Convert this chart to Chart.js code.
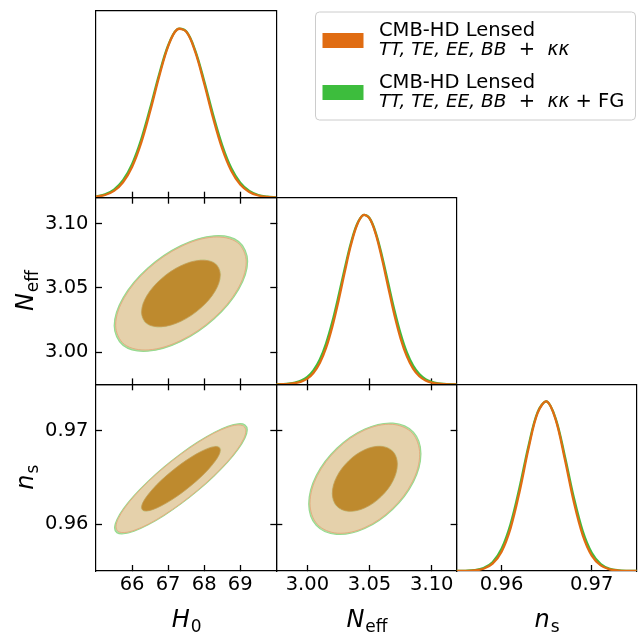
<!DOCTYPE html>
<html>
<head>
<meta charset="utf-8">
<script src="https://cdn.jsdelivr.net/npm/chart.js@4/dist/chart.umd.min.js"></script>
<style>
  html, body { margin: 0; padding: 0; background: #ffffff; }
  #wrap { position: relative; width: 641px; height: 633px; }
  #wrap canvas { position: absolute; left: 0; top: 0; }
</style>
</head>
<body>
<div id="wrap"></div>
<script>
// ---------------- parameter ranges and ticks ----------------
const h0Range = [65, 70];
const neffRange = [2.975, 3.12];
const nsRange = [0.955, 0.975];
const densRange = [0, 1.1];

const h0Ticks = [66, 67, 68, 69];
const neffTicks = [3.00, 3.05, 3.10];
const nsTicks = [0.96, 0.97];

// ---------------- 1D marginals (normalised to peak 1) ----------------
const h0Grid = [65, 65.25, 65.5, 65.75, 66, 66.25, 66.5, 66.75, 67, 67.25, 67.5,
                67.75, 68, 68.25, 68.5, 68.75, 69, 69.25, 69.5, 69.75, 70];
const h0Lensed = [0.0056, 0.016, 0.040, 0.091, 0.181, 0.321, 0.508, 0.713, 0.892, 0.991, 0.979,
                  0.861, 0.673, 0.468, 0.289, 0.159, 0.078, 0.034, 0.013, 0.0045, 0.0014];
const h0LensedFG = [0.0074, 0.020, 0.048, 0.103, 0.198, 0.341, 0.526, 0.726, 0.897, 0.992, 0.980,
                    0.868, 0.687, 0.487, 0.309, 0.175, 0.089, 0.040, 0.016, 0.0060, 0.0019];

const neffGrid = [2.975, 2.98, 2.985, 2.99, 2.995, 3.0, 3.005, 3.01, 3.015, 3.02,
                  3.025, 3.03, 3.035, 3.04, 3.045, 3.05, 3.055, 3.06, 3.065, 3.07,
                  3.075, 3.08, 3.085, 3.09, 3.095, 3.1, 3.105, 3.11, 3.115, 3.12];
const neffLensed = [0.0003, 0.0010, 0.0027, 0.0069, 0.016, 0.034, 0.069, 0.126, 0.215, 0.339,
                    0.492, 0.661, 0.821, 0.941, 0.998, 0.978, 0.885, 0.740, 0.573, 0.409,
                    0.270, 0.165, 0.093, 0.048, 0.023, 0.010, 0.0043, 0.0016, 0.0006, 0.0002];
const neffLensedFG = [0.0006, 0.0017, 0.0042, 0.0099, 0.022, 0.044, 0.084, 0.147, 0.241, 0.367,
                      0.519, 0.682, 0.833, 0.945, 0.998, 0.979, 0.893, 0.757, 0.597, 0.437,
                      0.298, 0.188, 0.111, 0.061, 0.031, 0.015, 0.0064, 0.0026, 0.0010, 0.0004];

const nsGrid = [0.955, 0.956, 0.957, 0.958, 0.959, 0.960, 0.961, 0.962, 0.963, 0.964, 0.965,
                0.966, 0.967, 0.968, 0.969, 0.970, 0.971, 0.972, 0.973, 0.974, 0.975];
const nsLensed = [0.0001, 0.0008, 0.0035, 0.013, 0.043, 0.114, 0.253, 0.469, 0.724, 0.932, 0.999,
                  0.892, 0.663, 0.411, 0.212, 0.091, 0.033, 0.0098, 0.0024, 0.0005, 0.0001];
const nsLensedFG = [0.0002, 0.0012, 0.0050, 0.018, 0.052, 0.131, 0.277, 0.493, 0.740, 0.936, 0.999,
                    0.898, 0.681, 0.436, 0.235, 0.107, 0.041, 0.013, 0.0036, 0.0008, 0.0002];

// ---------------- 2D contours (68% inner, 95% outer), closed outlines ----------------
const h0NeffOuter = [[69.165,3.0702],[68.923,3.0851],[68.26,3.0894],[67.355,3.0820],[66.45,3.0648],[65.788,3.0425],
                     [65.545,3.0210],[65.787,3.0061],[66.45,3.0018],[67.355,3.0092],[68.26,3.0264],[68.922,3.0487]];
const h0NeffInner = [[68.445,3.0601],[68.299,3.0689],[67.90,3.0714],[67.355,3.0671],[66.81,3.0569],[66.411,3.0438],
                     [66.265,3.0311],[66.411,3.0223],[66.81,3.0198],[67.355,3.0241],[67.90,3.0343],[68.299,3.0474]];
const h0NeffOuterFG = [[69.205,3.0707],[68.957,3.0860],[68.28,3.0904],[67.355,3.0828],[66.43,3.0652],[65.753,3.0424],
                       [65.505,3.0205],[65.753,3.0052],[66.43,3.0008],[67.355,3.0084],[68.28,3.0260],[68.957,3.0488]];
const h0NeffInnerFG = [[68.46,3.0603],[68.312,3.0692],[67.908,3.0718],[67.355,3.0674],[66.80,3.0571],[66.398,3.0437],
                       [66.25,3.0309],[66.398,3.0220],[66.80,3.0194],[67.355,3.0238],[67.91,3.0341],[68.312,3.0475]];

const h0NsOuter = [[69.155,0.97002],[69.094,0.97052],[68.914,0.97064],[68.628,0.97037],[68.255,0.96973],[67.821,0.96875],
                   [67.355,0.96751],[66.889,0.96609],[66.455,0.96459],[66.082,0.96311],[65.796,0.96175],[65.616,0.96060],
                   [65.555,0.95974],[65.616,0.95924],[65.796,0.95912],[66.082,0.95939],[66.455,0.96003],[66.889,0.96101],
                   [67.355,0.96225],[67.821,0.96367],[68.255,0.96517],[68.628,0.96665],[68.914,0.96801],[69.094,0.96916]];
const h0NsInner = [[68.445,0.96795],[68.408,0.96825],[68.299,0.96832],[68.126,0.96816],[67.90,0.96777],[67.637,0.96719],
                   [67.355,0.96645],[67.073,0.96560],[66.81,0.96471],[66.584,0.96382],[66.411,0.96301],[66.302,0.96233],
                   [66.265,0.96181],[66.302,0.96151],[66.411,0.96144],[66.584,0.96160],[66.81,0.96199],[67.073,0.96257],
                   [67.355,0.96331],[67.637,0.96416],[67.90,0.96505],[68.126,0.96594],[68.299,0.96675],[68.408,0.96743]];
const h0NsOuterFG = [[69.195,0.97013],[69.132,0.97065],[68.948,0.97077],[68.656,0.97050],[68.275,0.96984],[67.831,0.96884],
                     [67.355,0.96757],[66.879,0.96612],[66.435,0.96458],[66.054,0.96307],[65.762,0.96168],[65.578,0.96050],
                     [65.515,0.95963],[65.578,0.95911],[65.762,0.95899],[66.054,0.95926],[66.435,0.95992],[66.879,0.96092],
                     [67.355,0.96219],[67.831,0.96364],[68.275,0.96518],[68.656,0.96669],[68.948,0.96808],[69.132,0.96926]];
const h0NsInnerFG = [[68.46,0.96800],[68.422,0.96830],[68.312,0.96838],[68.136,0.96821],[67.908,0.96782],[67.641,0.96723],
                     [67.355,0.96648],[67.069,0.96562],[66.80,0.96471],[66.574,0.96381],[66.398,0.96298],[66.288,0.96228],
                     [66.25,0.96177],[66.288,0.96146],[66.398,0.96138],[66.574,0.96155],[66.80,0.96194],[67.069,0.96253],
                     [67.355,0.96328],[67.641,0.96414],[67.91,0.96505],[68.136,0.96595],[68.312,0.96678],[68.422,0.96746]];

const neffNsOuter = [[3.0903,0.96751],[3.0844,0.96976],[3.0683,0.97071],[3.0462,0.97010],[3.0242,0.96808],[3.0080,0.96521],
                     [3.0021,0.96225],[3.0080,0.96000],[3.0241,0.95905],[3.0462,0.95966],[3.0682,0.96168],[3.0844,0.96455]];
const neffNsInner = [[3.0723,0.96645],[3.0688,0.96779],[3.0593,0.96835],[3.0462,0.96799],[3.0332,0.96679],[3.0236,0.96508],
                     [3.0201,0.96331],[3.0236,0.96197],[3.0331,0.96141],[3.0462,0.96177],[3.0592,0.96297],[3.0688,0.96468]];
const neffNsOuterFG = [[3.0913,0.96757],[3.0853,0.96987],[3.0688,0.97084],[3.0462,0.97021],[3.0237,0.96815],[3.0071,0.96522],
                       [3.0011,0.96219],[3.0071,0.95989],[3.0236,0.95892],[3.0462,0.95955],[3.0687,0.96161],[3.0853,0.96454]];
const neffNsInnerFG = [[3.0727,0.96647],[3.0692,0.96783],[3.0595,0.96840],[3.0462,0.96803],[3.0330,0.96682],[3.0233,0.96508],
                       [3.0197,0.96329],[3.0232,0.96193],[3.0329,0.96136],[3.0462,0.96173],[3.0594,0.96294],[3.0692,0.96467]];

// ---------------- labels ----------------
const axisNames = { H0: ['H', '0'], Neff: ['N', 'eff'], ns: ['n', 's'] };
const legendEntries = [
  [[{ t: 'CMB-HD Lensed' }],
   [{ t: 'TT, TE, EE, BB', i: true }, { t: '  +  ' }, { t: 'κκ', i: true }]],
  [[{ t: 'CMB-HD Lensed' }],
   [{ t: 'TT, TE, EE, BB', i: true }, { t: '  +  ' }, { t: 'κκ', i: true }, { t: ' + FG' }]]
];

// ---------------- styling ----------------
const ORANGE = '#e06c12';
const GREEN = '#3dbd3d';
const FONT = 'DejaVu Sans';
const W = 641, H = 633;
const COLS = [96, 276.3, 456.5];
const ROWS = [11, 197.7, 384.3];
const PW = 180.3, PH = 186.7;

Chart.defaults.font.family = FONT;

const toPts = (xs, ys) => xs.map((x, k) => ({ x, y: ys[k] }));
const toXY = (arr) => arr.map(p => ({ x: p[0], y: p[1] }));

function curve(xs, ys, color) {
  return { data: toPts(xs, ys), showLine: true, borderColor: color, borderWidth: 2.3,
           pointRadius: 0, tension: 0.35, fill: false };
}
function region(arr, fillColor, edgeColor, edgeWidth) {
  const tension = arr.length > 12 ? 0.34 : 0.35;
  return { data: toXY(arr), showLine: true, closed: true, backgroundColor: fillColor,
           borderColor: edgeColor, borderWidth: edgeWidth, pointRadius: 0, tension, fill: 'shape' };
}
function contourSet(outer, inner, outerFG, innerFG) {
  // first entries are drawn on top
  return [
    region(inner, '#be8a2e', '#c89752', 0.8),
    region(innerFG, '#d3d29c', '#cfd8a2', 1),
    region(outer, '#e5d1ab', '#e6ac80', 1),
    region(outerFG, '#b0e2a8', '#98da90', 1.2)
  ];
}

// closes the contour outlines into smooth loops
const closedShapes = {
  id: 'closedShapes',
  afterDatasetsUpdate(chart) {
    chart.data.datasets.forEach((ds, i) => {
      if (!ds.closed) return;
      const line = chart.getDatasetMeta(i).dataset;
      if (!line) return;
      line._loop = true;
      line._fullLoop = true;
      line._pointsUpdated = false;
      delete line._segments;
      delete line._path;
    });
  }
};

function drawAxisName(ctx, name, cx, cy, rotate) {
  const [main, sub] = axisNames[name];
  const fMain = 'italic 24px "' + FONT + '"';
  const fSub = '17px "' + FONT + '"';
  ctx.save();
  ctx.font = fMain; const w1 = ctx.measureText(main).width;
  ctx.font = fSub; const w2 = ctx.measureText(sub).width;
  ctx.translate(cx, cy);
  if (rotate) ctx.rotate(-Math.PI / 2);
  const x0 = -(w1 + w2) / 2;
  ctx.fillStyle = '#000';
  ctx.textAlign = 'left';
  ctx.textBaseline = 'alphabetic';
  ctx.font = fMain; ctx.fillText(main, x0, 0);
  ctx.font = fSub; ctx.fillText(sub, x0 + w1 + 1, 5);
  ctx.restore();
}

function drawLegend(ctx) {
  const bx = 315.5, by = 12, bw = 320, bh = 108, r = 4;
  ctx.save();
  ctx.beginPath();
  ctx.moveTo(bx + r, by);
  ctx.arcTo(bx + bw, by, bx + bw, by + bh, r);
  ctx.arcTo(bx + bw, by + bh, bx, by + bh, r);
  ctx.arcTo(bx, by + bh, bx, by, r);
  ctx.arcTo(bx, by, bx + bw, by, r);
  ctx.closePath();
  ctx.fillStyle = 'rgba(255,255,255,0.9)';
  ctx.fill();
  ctx.strokeStyle = '#cccccc';
  ctx.lineWidth = 1;
  ctx.stroke();
  const colors = [ORANGE, GREEN];
  const base = [35.5, 87.5];
  ctx.textBaseline = 'alphabetic';
  ctx.textAlign = 'left';
  legendEntries.forEach((entry, s) => {
    ctx.fillStyle = colors[s];
    ctx.fillRect(322.5, base[s] - 2.5, 41, 15);
    entry.forEach((line, li) => {
      let x = 379;
      const y = base[s] + li * 19.5;
      line.forEach(part => {
        ctx.font = (part.i ? 'italic 18.5px ' : '19.5px ') + '"' + FONT + '"';
        ctx.fillStyle = '#000';
        ctx.fillText(part.t, x, y);
        x += ctx.measureText(part.t).width;
      });
    });
  });
  ctx.restore();
}

const wrap = document.getElementById('wrap');

function makePanel(p) {
  const left = COLS[p.col], top = ROWS[p.row];
  const right = left + PW, bottom = top + PH;
  const canvas = document.createElement('canvas');
  canvas.width = W; canvas.height = H;
  canvas.style.width = W + 'px'; canvas.style.height = H + 'px';
  wrap.appendChild(canvas);

  const tickGrid = (on) => ({ display: true, drawOnChartArea: false, drawTicks: on,
                               tickLength: -6, tickWidth: 1.3, tickColor: '#000' });
  const border = { display: true, color: '#000', width: 1.2 };
  const setTicks = (vals) => (s) => { s.ticks = vals.map(v => ({ value: v })); };
  const tickFont = { family: FONT, size: 19.5 };

  const scales = {
    x: {
      type: 'linear', axis: 'x', position: 'bottom', min: p.xr[0], max: p.xr[1],
      afterBuildTicks: setTicks(p.xt), grid: tickGrid(true), border,
      ticks: { display: !!p.xLab, font: tickFont, color: '#000', padding: 8.5, maxRotation: 0,
               autoSkip: false, callback: (v) => v.toFixed(p.xd) },
      afterFit: (s) => { s.height = p.xLab ? H - bottom : 0; }
    },
    y: {
      type: 'linear', axis: 'y', position: 'left', min: p.yr[0], max: p.yr[1],
      afterBuildTicks: setTicks(p.yt), grid: tickGrid(p.twoD), border,
      ticks: { display: !!p.yLab, font: tickFont, color: '#000', padding: 13.5,
               autoSkip: false, callback: (v) => v.toFixed(p.yd) },
      afterFit: (s) => { s.width = p.yLab ? left : 0; }
    },
    xTop: {
      type: 'linear', axis: 'x', position: 'top', min: p.xr[0], max: p.xr[1],
      afterBuildTicks: setTicks(p.twoD ? p.xt : []), grid: tickGrid(p.twoD), border,
      ticks: { display: false }, afterFit: (s) => { s.height = 0; }
    },
    yRight: {
      type: 'linear', axis: 'y', position: 'right', min: p.yr[0], max: p.yr[1],
      afterBuildTicks: setTicks(p.twoD ? p.yt : []), grid: tickGrid(p.twoD), border,
      ticks: { display: false }, afterFit: (s) => { s.width = 0; }
    }
  };

  const decor = {
    id: 'decor',
    afterDraw(chart) {
      const ctx = chart.ctx;
      if (p.xName) drawAxisName(ctx, p.xName, (left + right) / 2, 627, false);
      if (p.yName) drawAxisName(ctx, p.yName, 33, (top + bottom) / 2, true);
      if (p.legend) drawLegend(ctx);
    }
  };

  return new Chart(canvas, {
    type: 'scatter',
    data: { datasets: p.datasets },
    options: {
      responsive: false, animation: false, devicePixelRatio: 1, events: [],
      layout: {
        autoPadding: false,
        padding: { left: p.yLab ? 0 : left, top: top, right: W - right, bottom: p.xLab ? 0 : H - bottom }
      },
      scales,
      plugins: { legend: { display: false }, tooltip: { enabled: false } }
    },
    plugins: [closedShapes, decor]
  });
}

// top-left: H0 marginal
makePanel({ col: 0, row: 0, xr: h0Range, xt: h0Ticks, xd: 0, yr: densRange, yt: [], yd: 1,
  twoD: false, legend: true,
  datasets: [curve(h0Grid, h0Lensed, ORANGE), curve(h0Grid, h0LensedFG, GREEN)] });

// middle-left: H0 vs Neff
makePanel({ col: 0, row: 1, xr: h0Range, xt: h0Ticks, xd: 0, yr: neffRange, yt: neffTicks, yd: 2,
  twoD: true, yLab: true, yName: 'Neff',
  datasets: contourSet(h0NeffOuter, h0NeffInner, h0NeffOuterFG, h0NeffInnerFG) });

// middle: Neff marginal
makePanel({ col: 1, row: 1, xr: neffRange, xt: neffTicks, xd: 2, yr: densRange, yt: [], yd: 1,
  twoD: false,
  datasets: [curve(neffGrid, neffLensed, ORANGE), curve(neffGrid, neffLensedFG, GREEN)] });

// bottom-left: H0 vs ns
makePanel({ col: 0, row: 2, xr: h0Range, xt: h0Ticks, xd: 0, yr: nsRange, yt: nsTicks, yd: 2,
  twoD: true, xLab: true, yLab: true, xName: 'H0', yName: 'ns',
  datasets: contourSet(h0NsOuter, h0NsInner, h0NsOuterFG, h0NsInnerFG) });

// bottom-middle: Neff vs ns
makePanel({ col: 1, row: 2, xr: neffRange, xt: neffTicks, xd: 2, yr: nsRange, yt: nsTicks, yd: 2,
  twoD: true, xLab: true, xName: 'Neff',
  datasets: contourSet(neffNsOuter, neffNsInner, neffNsOuterFG, neffNsInnerFG) });

// bottom-right: ns marginal
makePanel({ col: 2, row: 2, xr: nsRange, xt: nsTicks, xd: 2, yr: densRange, yt: [], yd: 1,
  twoD: false, xLab: true, xName: 'ns',
  datasets: [curve(nsGrid, nsLensed, ORANGE), curve(nsGrid, nsLensedFG, GREEN)] });
</script>
</body>
</html>
